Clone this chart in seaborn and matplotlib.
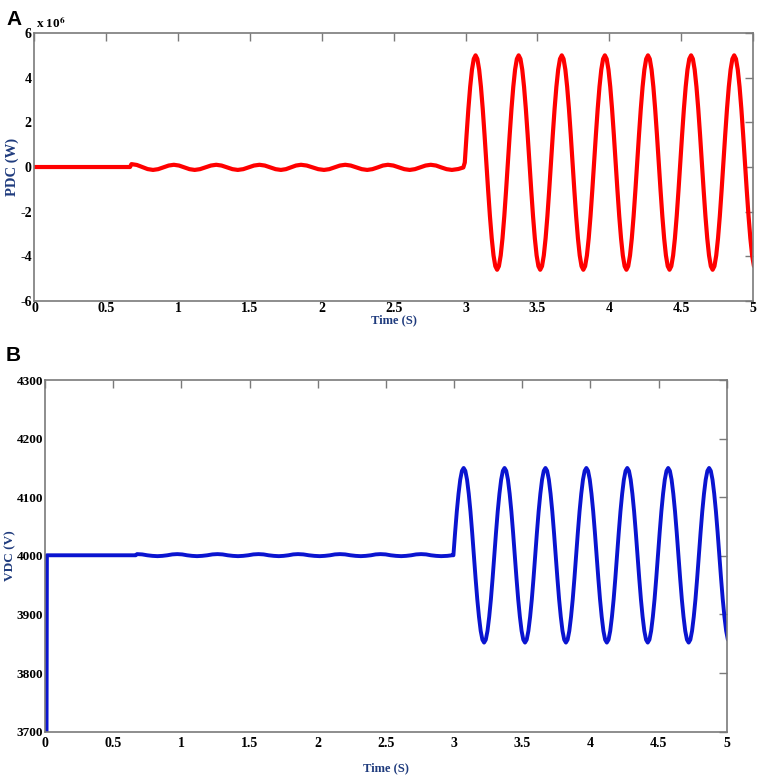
import numpy as np
import pandas as pd
import matplotlib
matplotlib.use("Agg")
import matplotlib.pyplot as plt
import seaborn as sns
from matplotlib.ticker import FormatStrFormatter

# ---- data (time in s) ----
# small ripple between ~0.67 s and 3 s (same sample times for both panels)
ripple_t = [0.665, 0.675, 0.7125, 0.75, 0.7875,
            0.825, 0.861, 0.897, 0.934,
            0.97, 1.006, 1.042, 1.079,
            1.115, 1.152, 1.19, 1.228,
            1.265, 1.302, 1.34, 1.378,
            1.415, 1.453, 1.49, 1.528,
            1.566, 1.603, 1.64, 1.678,
            1.715, 1.75, 1.785, 1.82,
            1.855, 1.895, 1.935, 1.975,
            2.015, 2.052, 2.09, 2.126,
            2.163, 2.201, 2.24, 2.278,
            2.316, 2.352, 2.39, 2.425,
            2.46, 2.498, 2.535, 2.574,
            2.612, 2.648, 2.685, 2.722,
            2.758, 2.795, 2.83, 2.868,
            2.905, 2.95, 2.985]

pdc_ripple = [0.0, 0.13, 0.092, 0.0, -0.092,
              -0.13, -0.096, -0.015, 0.066,
              0.10, 0.066, -0.015, -0.096,
              -0.13, -0.096, -0.015, 0.066,
              0.10, 0.066, -0.015, -0.096,
              -0.13, -0.096, -0.015, 0.066,
              0.10, 0.066, -0.015, -0.096,
              -0.13, -0.096, -0.015, 0.066,
              0.10, 0.066, -0.015, -0.096,
              -0.13, -0.096, -0.015, 0.066,
              0.10, 0.066, -0.015, -0.096,
              -0.13, -0.096, -0.015, 0.066,
              0.10, 0.066, -0.015, -0.096,
              -0.13, -0.096, -0.015, 0.066,
              0.10, 0.066, -0.015, -0.096,
              -0.13, -0.09, -0.02]

vdc_ripple = [4001, 4003, 4002.5, 4001, 4000,
              3999.5, 4000, 4001, 4002.5,
              4003, 4002.5, 4001, 4000,
              3999.5, 4000, 4001, 4002.5,
              4003, 4002.5, 4001, 4000,
              3999.5, 4000, 4001, 4002.5,
              4003, 4002.5, 4001, 4000,
              3999.5, 4000, 4001, 4002.5,
              4003, 4002.5, 4001, 4000,
              3999.5, 4000, 4001, 4002.5,
              4003, 4002.5, 4001, 4000,
              3999.5, 4000, 4001, 4002.5,
              4003, 4002.5, 4001, 4000,
              3999.5, 4000, 4001, 4002.5,
              4003, 4002.5, 4001, 4000,
              3999.5, 4000, 4001]

# large oscillation after 3 s, read every 0.0125 s from 2.995 s
osc_t = np.linspace(2.995, 5.0075, 162)

pdc_osc = [  # x 10^6 W
    0.2, 1.44, 2.6, 3.59, 4.36, 4.84, 5.0, 4.84, 4.36, 3.59, 2.6, 1.44,
    0.2, -1.04, -2.2, -3.19, -3.96, -4.44, -4.6, -4.44, -3.96, -3.19, -2.2, -1.04,
    0.2, 1.44, 2.6, 3.59, 4.36, 4.84, 5.0, 4.84, 4.36, 3.59, 2.6, 1.44,
    0.2, -1.04, -2.2, -3.19, -3.96, -4.44, -4.6, -4.44, -3.96, -3.19, -2.2, -1.04,
    0.2, 1.44, 2.6, 3.59, 4.36, 4.84, 5.0, 4.84, 4.36, 3.59, 2.6, 1.44,
    0.2, -1.04, -2.2, -3.19, -3.96, -4.44, -4.6, -4.44, -3.96, -3.19, -2.2, -1.04,
    0.2, 1.44, 2.6, 3.59, 4.36, 4.84, 5.0, 4.84, 4.36, 3.59, 2.6, 1.44,
    0.2, -1.04, -2.2, -3.19, -3.96, -4.44, -4.6, -4.44, -3.96, -3.19, -2.2, -1.04,
    0.2, 1.44, 2.6, 3.59, 4.36, 4.84, 5.0, 4.84, 4.36, 3.59, 2.6, 1.44,
    0.2, -1.04, -2.2, -3.19, -3.96, -4.44, -4.6, -4.44, -3.96, -3.19, -2.2, -1.04,
    0.2, 1.44, 2.6, 3.59, 4.36, 4.84, 5.0, 4.84, 4.36, 3.59, 2.6, 1.44,
    0.2, -1.04, -2.2, -3.19, -3.96, -4.44, -4.6, -4.44, -3.96, -3.19, -2.2, -1.04,
    0.2, 1.44, 2.6, 3.59, 4.36, 4.84, 5.0, 4.84, 4.36, 3.59, 2.6, 1.44,
    0.2, -1.04, -2.2, -3.19, -3.96, -4.44,
]

vdc_osc = [
    4001, 4040, 4076, 4106, 4130, 4145, 4150, 4145, 4130, 4106, 4076, 4040,
    4001, 3962, 3926, 3896, 3872, 3857, 3852, 3857, 3872, 3896, 3926, 3962,
    4001, 4040, 4076, 4106, 4130, 4145, 4150, 4145, 4130, 4106, 4076, 4040,
    4001, 3962, 3926, 3896, 3872, 3857, 3852, 3857, 3872, 3896, 3926, 3962,
    4001, 4040, 4076, 4106, 4130, 4145, 4150, 4145, 4130, 4106, 4076, 4040,
    4001, 3962, 3926, 3896, 3872, 3857, 3852, 3857, 3872, 3896, 3926, 3962,
    4001, 4040, 4076, 4106, 4130, 4145, 4150, 4145, 4130, 4106, 4076, 4040,
    4001, 3962, 3926, 3896, 3872, 3857, 3852, 3857, 3872, 3896, 3926, 3962,
    4001, 4040, 4076, 4106, 4130, 4145, 4150, 4145, 4130, 4106, 4076, 4040,
    4001, 3962, 3926, 3896, 3872, 3857, 3852, 3857, 3872, 3896, 3926, 3962,
    4001, 4040, 4076, 4106, 4130, 4145, 4150, 4145, 4130, 4106, 4076, 4040,
    4001, 3962, 3926, 3896, 3872, 3857, 3852, 3857, 3872, 3896, 3926, 3962,
    4001, 4040, 4076, 4106, 4130, 4145, 4150, 4145, 4130, 4106, 4076, 4040,
    4001, 3962, 3926, 3896, 3872, 3857,
]

# start-up of each trace
pdc_start_t = [0.0]
pdc_start = [0.0]
vdc_start_t = [0.0, 0.011, 0.014]
vdc_start = [3650, 3650, 4001]

x_ticks = [0, 0.5, 1, 1.5, 2, 2.5, 3, 3.5, 4, 4.5, 5]
pdc_ticks = [-6, -4, -2, 0, 2, 4, 6]
vdc_ticks = [3700, 3800, 3900, 4000, 4100, 4200, 4300]

pdc_df = pd.DataFrame({"t": pdc_start_t + ripple_t + list(osc_t),
                       "p": pdc_start + pdc_ripple + pdc_osc})
vdc_df = pd.DataFrame({"t": vdc_start_t + ripple_t + list(osc_t),
                       "v": vdc_start + vdc_ripple + vdc_osc})

# ---- style ----
sns.set_style("white")
plt.rcParams["font.family"] = ["Liberation Serif", "DejaVu Serif"]
plt.rcParams["font.weight"] = "bold"
plt.rcParams["mathtext.fontset"] = "stix"
plt.rcParams["axes.unicode_minus"] = False
plt.rcParams["text.color"] = "black"

spine_col = "#7a7a7a"
label_col = "#1f3b7d"

fig = plt.figure(figsize=(7.61, 7.77), dpi=100)
ax_a = fig.add_axes([0.0453, 0.6126, 0.944, 0.3449])
ax_b = fig.add_axes([0.0591, 0.0583, 0.896, 0.4526])

sns.lineplot(data=pdc_df, x="t", y="p", ax=ax_a, color="#ff0000",
             linewidth=3.0, sort=False, estimator=None)
sns.lineplot(data=vdc_df, x="t", y="v", ax=ax_b, color="#0a14d0",
             linewidth=2.8, sort=False, estimator=None)

for ax, yt in [(ax_a, pdc_ticks), (ax_b, vdc_ticks)]:
    ax.set_xlim(0, 5)
    ax.set_ylim(yt[0], yt[-1])
    ax.set_xticks(x_ticks)
    ax.set_yticks(yt)
    ax.xaxis.set_major_formatter(FormatStrFormatter("%g"))
    ax.tick_params(direction="in", length=6, width=1, color=spine_col,
                   labelcolor="black", top=True, right=True,
                   labelsize=10, pad=2)
    for lab in ax.get_xticklabels() + ax.get_yticklabels():
        lab.set_fontweight("bold")
    for s in ax.spines.values():
        s.set_color(spine_col)
        s.set_linewidth(1.2)

ax_a.tick_params(axis="x", pad=1)
ax_b.tick_params(axis="x", pad=4)
ax_b.tick_params(axis="y", labelsize=9.5, pad=1.5)

ax_a.set_xlabel("Time (S)", fontsize=9, fontweight="bold", color=label_col)
ax_a.set_ylabel("PDC (W)", fontsize=10.5, fontweight="bold", color=label_col)
ax_b.set_xlabel("Time (S)", fontsize=9, fontweight="bold", color=label_col)
ax_b.set_ylabel("VDC (V)", fontsize=9.5, fontweight="bold", color=label_col)
ax_a.xaxis.set_label_coords(0.5, -0.05)
ax_a.yaxis.set_label_coords(-0.021, 0.5)
ax_b.xaxis.set_label_coords(0.5, -0.086)
ax_b.yaxis.set_label_coords(-0.042, 0.5)

ax_a.text(0.002, 1.008, r"x 10$^{\mathbf{6}}$", transform=ax_a.transAxes,
          fontsize=9.5, fontweight="bold", ha="left", va="bottom")

fig.text(0.008, 0.975, "A", family="Liberation Sans", fontsize=15,
         fontweight="bold", ha="left", va="center", color="black")
fig.text(0.008, 0.543, "B", family="Liberation Sans", fontsize=15,
         fontweight="bold", ha="left", va="center", color="black")

fig.savefig("out.png", dpi=100)
